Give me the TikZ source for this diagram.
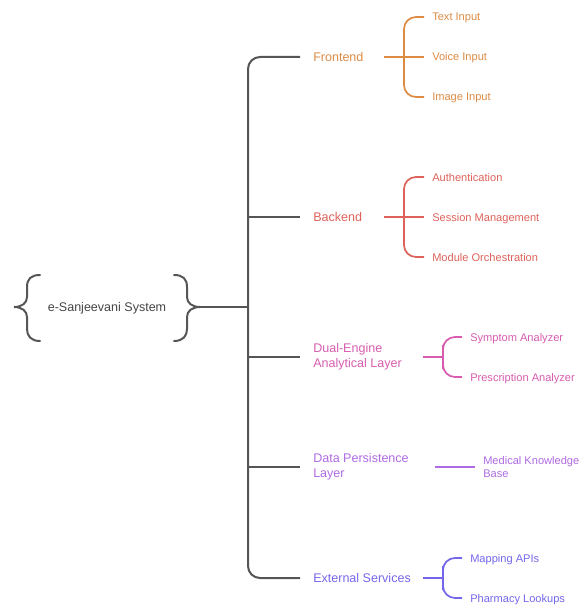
\documentclass[tikz,border=0pt]{standalone}
\usepackage{fontspec}
\setmainfont{Liberation Sans}
\usepackage{xcolor}
\usepackage{tikz}
\usetikzlibrary{positioning,calc}
\definecolor{esInk}{HTML}{444444}
\definecolor{esLine}{HTML}{555555}
\definecolor{esFront}{HTML}{DC8B45}
\definecolor{esBack}{HTML}{DD625A}
\definecolor{esDual}{HTML}{D75CAE}
\definecolor{esData}{HTML}{AE6AE2}
\definecolor{esExt}{HTML}{7466EA}
\tikzset{
  % Root label between the braces
  rootlbl/.style={font=\fontsize{9.4}{11}\selectfont,text=esInk,inner sep=0pt,
    text height=6.8pt,text depth=0pt},
  % First level branch label
  lvl/.style={anchor=west,align=left,inner xsep=9.75pt,inner ysep=0pt,
    text height=6.8pt,text depth=0pt,
    font=\fontsize{9.4}{11.25}\selectfont},
  % Leaf label
  leaf/.style={anchor=west,align=left,inner xsep=6pt,inner ysep=0pt,
    text height=6pt,text depth=0pt,
    font=\fontsize{8.3}{9.75}\selectfont},
  % Two line labels keep their natural box
  twoline/.style={text height=,text depth=},
  % Lines
  brc/.style={line width=1.5pt,color=esLine,line cap=round},
  trunk/.style={line width=1.5pt,color=esLine,rounded corners=9pt},
  twig/.style={line width=1.3pt,rounded corners=9pt},
}

\begin{document}
\begin{tikzpicture}[x=0.75pt,y=-0.75pt]
  \useasboundingbox (0,0) rectangle (579,606);

  % root
  \node[rootlbl] (root) at (107,307) {e-Sanjeevani System};
  \draw[brc] (40,275) .. controls (31,275) and (27,279) .. (27,287) -- (27,297)
    .. controls (27,303) and (22,307) .. (14,307)
    .. controls (22,307) and (27,311) .. (27,317) -- (27,329)
    .. controls (27,336) and (31,341) .. (40,341);
  \draw[brc] (174,275) .. controls (183,275) and (187,279) .. (187,287) -- (187,297)
    .. controls (187,303) and (192,307) .. (200,307)
    .. controls (192,307) and (187,311) .. (187,317) -- (187,329)
    .. controls (187,336) and (183,341) .. (174,341);
  \coordinate (rtip) at (200,307);
  \coordinate (hub) at (248,307);

  % first level
  \node[lvl,text=esFront] (fe) at (300,57) {Frontend};
  \node[lvl,text=esBack] (be) at (300,217) {Backend};
  \node[lvl,twoline,text=esDual] (de) at (300,357) {Dual-Engine\\Analytical Layer};
  \node[lvl,twoline,text=esData] (dp) at (300,467) {Data Persistence\\Layer};
  \node[lvl,text=esExt] (ex) at (300,578) {External Services};

  \draw[trunk] (rtip) -- (hub);
  \draw[trunk] (fe.west) -| (hub) |- (ex.west);
  \draw[trunk] (hub |- be.west) -- (be.west);
  \draw[trunk] (hub |- de.west) -- (de.west);
  \draw[trunk] (hub |- dp.west) -- (dp.west);

  % frontend
  \node[leaf,text=esFront] (fe1) at (424,17) {Text Input};
  \node[leaf,text=esFront] (fe2) at (424,57) {Voice Input};
  \node[leaf,text=esFront] (fe3) at (424,97) {Image Input};
  \coordinate (fes) at (384,57);
  \coordinate (fej) at (404,57);
  \draw[twig,esFront] (fes) -- (fe2.west);
  \draw[twig,esFront] (fe1.west) -| (fej) |- (fe3.west);

  % backend
  \node[leaf,text=esBack] (be1) at (424,177) {Authentication};
  \node[leaf,text=esBack] (be2) at (424,217) {Session Management};
  \node[leaf,text=esBack] (be3) at (424,257) {Module Orchestration};
  \coordinate (bes) at (384,217);
  \coordinate (bej) at (404,217);
  \draw[twig,esBack] (bes) -- (be2.west);
  \draw[twig,esBack] (be1.west) -| (bej) |- (be3.west);

  % dual engine
  \node[leaf,text=esDual] (de1) at (462,337) {Symptom Analyzer};
  \node[leaf,text=esDual] (de2) at (462,377) {Prescription Analyzer};
  \coordinate (des) at (423,357);
  \coordinate (dej) at (443,357);
  \draw[twig,esDual] (des) -- (dej);
  \draw[twig,esDual] (de1.west) -| (dej) |- (de2.west);

  % data persistence
  \node[leaf,twoline,text=esData] (dp1) at (475,467) {Medical Knowledge\\Base};
  \coordinate (dps) at (435,467);
  \draw[twig,esData] (dps) -- (dp1.west);

  % external services
  \node[leaf,text=esExt] (ex1) at (462,558) {Mapping APIs};
  \node[leaf,text=esExt] (ex2) at (462,598) {Pharmacy Lookups};
  \coordinate (exs) at (423,578);
  \coordinate (exj) at (443,578);
  \draw[twig,esExt] (exs) -- (exj);
  \draw[twig,esExt] (ex1.west) -| (exj) |- (ex2.west);
\end{tikzpicture}
\end{document}
